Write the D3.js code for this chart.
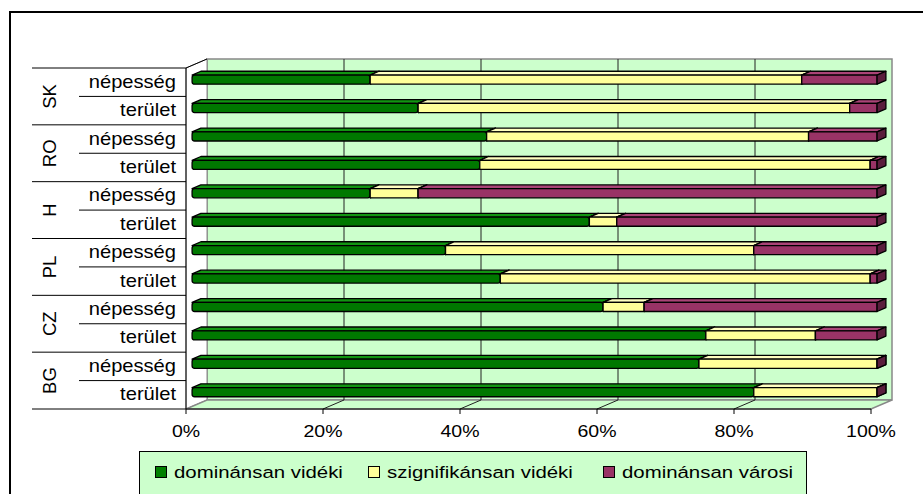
<!DOCTYPE html>
<html>
<head>
<meta charset="utf-8">
<script src="https://cdn.jsdelivr.net/npm/d3@7"></script>
<style>
  body { margin: 0; background: #fff; }
  svg { display: block; font-family: "Liberation Sans", Arial, sans-serif; }
</style>
</head>
<body>
<script>
// data (percent of each row)
var countries = ["SK", "RO", "H", "PL", "CZ", "BG"];
var measures = ["népesség", "terület"];
var seriesNames = ["dominánsan vidéki", "szignifikánsan vidéki", "dominánsan városi"];
var dominansanVideki     = [26, 33, 43, 42, 26, 58, 37, 45, 60, 75, 74, 82];
var szignifikansanVideki = [63, 63, 47, 57,  7,  4, 45, 54,  6, 16, 26, 18];
var dominansanVarosi     = [11,  4, 10,  1, 67, 38, 18,  1, 34,  9,  0,  0];
var tickValues = [0, 20, 40, 60, 80, 100];

var width = 923, height = 494;
var svg = d3.select("body").append("svg")
    .attr("width", width)
    .attr("height", height);

// colours: front, top, side
var colors = {
  "dominánsan vidéki":     { front: "#007800", top: "#129612", side: "#004a00", swatch: "#008000" },
  "szignifikánsan vidéki": { front: "#ffff99", top: "#ffffc0", side: "#c8c870", swatch: "#ffff99" },
  "dominánsan városi":     { front: "#993366", top: "#aa4477", side: "#5a1d3c", swatch: "#993366" }
};
var wallColor = "#ccffcc";

// outer chart border (right/bottom edges run off the page)
svg.append("rect")
    .attr("x", 10).attr("y", 12)
    .attr("width", 960).attr("height", 560)
    .attr("fill", "#fff")
    .attr("stroke", "#000")
    .attr("stroke-width", 2);

var rows = [];
countries.forEach(function (c) {
  measures.forEach(function (m) {
    rows.push({ country: c, measure: m, key: c + "|" + m });
  });
});
rows.forEach(function (r, i) {
  r["dominánsan vidéki"] = dominansanVideki[i];
  r["szignifikánsan vidéki"] = szignifikansanVideki[i];
  r["dominánsan városi"] = dominansanVarosi[i];
});

var depthX = 21, depthY = -9;
var x = d3.scaleLinear().domain([0, 100]).range([186, 871]);
var y = d3.scaleBand().domain(rows.map(function (d) { return d.key; })).range([68, 409]);
var plotTop = y.range()[0], plotBottom = y.range()[1];

// back wall
svg.append("rect")
    .attr("x", x(0) + depthX).attr("y", plotTop + depthY)
    .attr("width", x(100) - x(0)).attr("height", plotBottom - plotTop)
    .attr("fill", wallColor)
    .attr("stroke", "#888")
    .attr("stroke-width", 1.5);

// left side wall
svg.append("polygon")
    .attr("points", [[x(0), plotTop], [x(0) + depthX, plotTop + depthY],
                     [x(0) + depthX, plotBottom + depthY], [x(0), plotBottom]].join(" "))
    .attr("fill", "#fff")
    .attr("stroke", "#888");

// floor
svg.append("polygon")
    .attr("points", [[x(0), plotBottom], [x(0) + depthX, plotBottom + depthY],
                     [x(100) + depthX, plotBottom + depthY], [x(100), plotBottom]].join(" "))
    .attr("fill", wallColor)
    .attr("stroke", "#888")
    .attr("stroke-width", 1.5);

// gridlines on back wall and floor
var inner = tickValues.filter(function (t) { return t > 0 && t < 100; });
svg.selectAll(".grid").data(inner).enter().append("line")
    .attr("x1", function (d) { return x(d) + depthX; })
    .attr("x2", function (d) { return x(d) + depthX; })
    .attr("y1", plotTop + depthY)
    .attr("y2", plotBottom + depthY)
    .attr("stroke", "#222");
svg.selectAll(".floorgrid").data(inner).enter().append("line")
    .attr("x1", function (d) { return x(d); })
    .attr("x2", function (d) { return x(d) + depthX; })
    .attr("y1", plotBottom)
    .attr("y2", plotBottom + depthY)
    .attr("stroke", "#222");

// bars
var stack = d3.stack().keys(seriesNames);
var stacked = stack(rows);
var f1 = 0.29, f2 = 0.71;
var barH = y.bandwidth() * 0.32;
var ddx = (f2 - f1) * depthX, ddy = (f2 - f1) * depthY;

var gBars = svg.append("g");
rows.forEach(function (r, i) {
  var cy = y(r.key) + y.bandwidth() / 2 + f1 * depthY;
  var yt = cy - barH / 2, yb = cy + barH / 2;
  stacked.forEach(function (s) {
    var v0 = s[i][0], v1 = s[i][1];
    var x0 = x(v0) + f1 * depthX, x1 = x(v1) + f1 * depthX;
    var c = colors[s.key];
    var g = gBars.append("g")
        .attr("stroke", "#000")
        .attr("stroke-width", 1.3)
        .attr("stroke-linejoin", "round");
    g.append("polygon")
        .attr("points", [[x0, yt], [x1, yt], [x1 + ddx, yt + ddy], [x0 + ddx, yt + ddy]].join(" "))
        .attr("fill", c.top);
    g.append("rect")
        .attr("x", x0).attr("y", yt)
        .attr("width", Math.max(0, x1 - x0)).attr("height", barH)
        .attr("fill", c.front)
        .attr("rx", v0 === 0 ? 2.5 : 0);
    g.append("polygon")
        .attr("points", [[x1, yt], [x1 + ddx, yt + ddy], [x1 + ddx, yb + ddy], [x1, yb]].join(" "))
        .attr("fill", c.side);
  });
});

// axes lines
svg.append("line")
    .attr("x1", x(0)).attr("x2", x(100))
    .attr("y1", plotBottom).attr("y2", plotBottom)
    .attr("stroke", "#000");
svg.append("line")
    .attr("x1", x(0)).attr("x2", x(0))
    .attr("y1", plotTop).attr("y2", plotBottom)
    .attr("stroke", "#000");
svg.append("line")
    .attr("x1", x(0)).attr("x2", x(0) + depthX)
    .attr("y1", plotTop).attr("y2", plotTop + depthY)
    .attr("stroke", "#000");

function stretched(sel, tx, ty, sx, anchor, size, txt) {
  return sel.append("text")
      .attr("transform", "translate(" + tx + "," + ty + ") scale(" + sx + ",1)")
      .attr("text-anchor", anchor)
      .attr("font-size", size)
      .attr("fill", "#000")
      .text(txt);
}

// value axis ticks + labels
var xAxis = svg.append("g");
tickValues.forEach(function (t) {
  xAxis.append("line")
      .attr("x1", x(t)).attr("x2", x(t))
      .attr("y1", plotBottom).attr("y2", plotBottom + 5)
      .attr("stroke", "#000");
  stretched(xAxis, x(t), 437, 1.22, "middle", 16, t + "%");
});

// category axis: inner + outer labels
var catAxis = svg.append("g");
rows.forEach(function (r, i) {
  var top = y(r.key);
  var isGroupStart = i % measures.length === 0;
  catAxis.append("line")
      .attr("x1", isGroupStart ? 32 : 79).attr("x2", x(0))
      .attr("y1", top).attr("y2", top)
      .attr("stroke", "#000");
  stretched(catAxis, 176, top + y.bandwidth() / 2 + 5.5, 1.15, "end", 17.5, r.measure);
});
catAxis.append("line")
    .attr("x1", 32).attr("x2", x(0))
    .attr("y1", plotBottom).attr("y2", plotBottom)
    .attr("stroke", "#000");
countries.forEach(function (c) {
  var top = y(c + "|" + measures[0]);
  var mid = top + y.bandwidth() * measures.length / 2;
  catAxis.append("text")
      .attr("transform", "translate(56," + mid + ") rotate(-90)")
      .attr("text-anchor", "middle")
      .attr("font-size", 18.5)
      .text(c);
});

// legend
var legend = svg.append("g");
legend.append("rect")
    .attr("x", 139.5).attr("y", 451.5)
    .attr("width", 667).attr("height", 60)
    .attr("fill", wallColor)
    .attr("stroke", "#000");
var legendX = [155, 368, 603];
seriesNames.forEach(function (s, i) {
  legend.append("rect")
      .attr("x", legendX[i] + 0.5).attr("y", 466.5)
      .attr("width", 11).attr("height", 11)
      .attr("fill", colors[s].swatch)
      .attr("stroke", "#000");
  stretched(legend, legendX[i] + 19, 478, 1.2, "start", 17, s);
});
</script>
</body>
</html>
